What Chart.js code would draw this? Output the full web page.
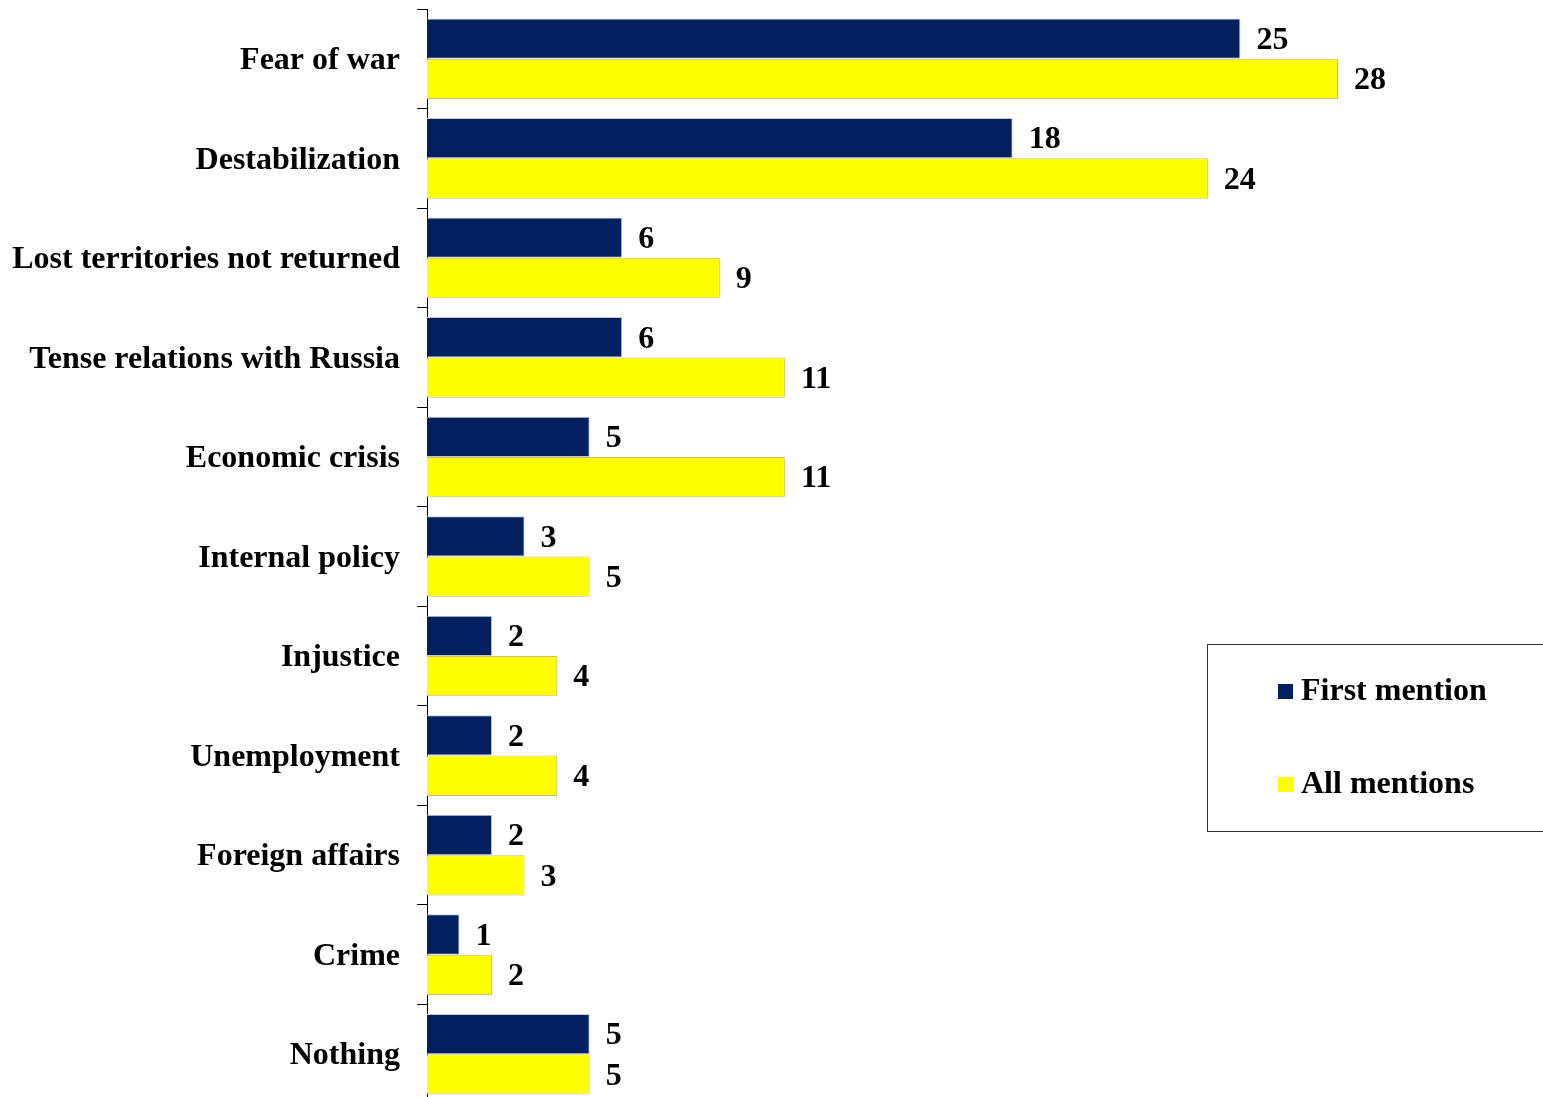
<!DOCTYPE html>
<html>
<head>
<meta charset="utf-8">
<script src="https://cdn.jsdelivr.net/npm/chart.js@4.4.1/dist/chart.umd.min.js"></script>
<style>
  html, body { margin: 0; padding: 0; background: #fff; overflow: hidden; }
  .wrap { position: relative; width: 1543px; height: 1104px; }
</style>
</head>
<body>
<div class="wrap"><canvas id="chart"></canvas></div>
<script>
const categories = [
  "Fear of war", "Destabilization", "Lost territories not returned",
  "Tense relations with Russia", "Economic crisis", "Internal policy",
  "Injustice", "Unemployment", "Foreign affairs", "Crime", "Nothing"
];
const firstMention = [25, 18, 6, 6, 5, 3, 2, 2, 2, 1, 5];
const allMentions = [28, 24, 9, 11, 11, 5, 4, 4, 3, 2, 5];

const FONT = '"Liberation Serif", "Times New Roman", serif';

// value labels at the end of each bar
const valueLabels = {
  id: "valueLabels",
  afterDatasetsDraw(chart) {
    const ctx = chart.ctx;
    ctx.save();
    ctx.font = "bold 32px " + FONT;
    ctx.fillStyle = "#000";
    ctx.textBaseline = "middle";
    ctx.textAlign = "left";
    chart.data.datasets.forEach((ds, i) => {
      chart.getDatasetMeta(i).data.forEach((bar, j) => {
        ctx.fillText(ds.data[j], bar.x + 16, bar.y + 2);
      });
    });
    ctx.restore();
  }
};

// boxed legend on the right
const boxLegend = {
  id: "boxLegend",
  afterDraw(chart) {
    const ctx = chart.ctx;
    ctx.save();
    ctx.strokeStyle = "#333";
    ctx.lineWidth = 1;
    ctx.strokeRect(1207.5, 644.5, 400, 187);
    ctx.font = "bold 32px " + FONT;
    ctx.textBaseline = "middle";
    ctx.textAlign = "left";
    const rows = [692, 785];
    chart.data.datasets.forEach((ds, i) => {
      ctx.fillStyle = ds.backgroundColor;
      ctx.fillRect(1278, rows[i] - 8, 15, 15);
      ctx.fillStyle = "#000";
      ctx.fillText(ds.label, 1301, rows[i]);
    });
    ctx.restore();
  }
};

new Chart(document.getElementById("chart"), {
  type: "bar",
  data: {
    labels: categories,
    datasets: [
      {
        label: "First mention",
        data: firstMention,
        backgroundColor: "#00205f",
        borderColor: "#c8c8c8",
        borderWidth: 1
      },
      {
        label: "All mentions",
        data: allMentions,
        backgroundColor: "#ffff00",
        borderColor: "#c8c070",
        borderWidth: 1
      }
    ]
  },
  options: {
    indexAxis: "y",
    responsive: true,
    maintainAspectRatio: false,
    animation: false,
    layout: { padding: { top: 9, right: 0, bottom: 0, left: 0 } },
    datasets: {
      bar: { categoryPercentage: 0.81, barPercentage: 1.0 }
    },
    plugins: {
      legend: { display: false },
      tooltip: { enabled: false }
    },
    scales: {
      x: {
        display: false,
        min: 0,
        max: 34.3
      },
      y: {
        afterFit(scale) {
          scale.width = 427;
          scale.paddingTop = 0;
          scale.paddingBottom = 0;
        },
        border: { display: true, color: "#000", width: 1 },
        grid: {
          offset: true,
          drawOnChartArea: false,
          drawTicks: true,
          tickLength: 10,
          color: "#000"
        },
        ticks: {
          color: "#000",
          padding: 17,
          labelOffset: 2,
          font: { family: FONT, size: 32, weight: "bold" }
        }
      }
    }
  },
  plugins: [valueLabels, boxLegend]
});
</script>
</body>
</html>
